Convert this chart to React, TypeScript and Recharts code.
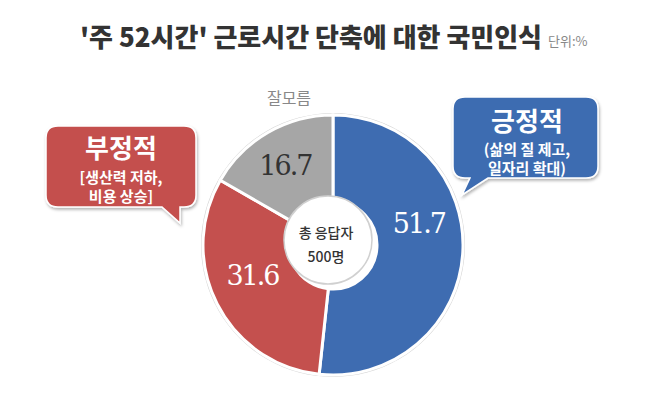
import React from 'react'
import { PieChart, Pie, Cell } from 'recharts'

document.body.style.margin = '0'

const categories = ['긍정적', '부정적', '잘모름']
const shares = [51.7, 31.6, 16.7]
const sliceColors = ['#3e6cb1', '#c4504e', '#a6a6a6']
const labelColors = ['#ffffff', '#ffffff', '#333333']

const data = categories.map((name, i) => ({ name, value: shares[i] }))

const RADIAN = Math.PI / 180
const labelShift = [
  { dx: -1, dy: -26 },
  { dx: -3, dy: -9 },
  { dx: -4, dy: -4 },
]

const renderLabel = (props: any) => {
  const { cx, cy, midAngle, innerRadius, outerRadius, index, value } = props
  const r = (innerRadius + outerRadius) / 2
  const x = cx + r * Math.cos(-midAngle * RADIAN) + labelShift[index].dx
  const y = cy + r * Math.sin(-midAngle * RADIAN) + labelShift[index].dy
  return (
    <text
      x={x}
      y={y}
      textAnchor="middle"
      dominantBaseline="central"
      fill={labelColors[index]}
      fontFamily="DejaVu Serif"
      fontSize={27}
      letterSpacing={-2}
    >
      {Number(value).toFixed(1)}
    </text>
  )
}

const FONT = '"Noto Sans CJK KR", "Noto Sans", sans-serif'

export default function App() {
  return (
    <div style={{ position: 'relative', width: 650, height: 411, background: '#fff' }}>
      <PieChart width={650} height={411}>
        <Pie
          data={[{ value: 1 }]}
          dataKey="value"
          cx={328}
          cy={240}
          innerRadius={130}
          outerRadius={132}
          fill="#d6d6d6"
          stroke="none"
          isAnimationActive={false}
        />
        <Pie
          data={data}
          dataKey="value"
          nameKey="name"
          cx={328}
          cy={240}
          innerRadius={44}
          outerRadius={130}
          startAngle={90}
          endAngle={-270}
          stroke="#ffffff"
          strokeWidth={3}
          label={renderLabel}
          labelLine={false}
          isAnimationActive={false}
        >
          {data.map((d, i) => (
            <Cell key={d.name} fill={sliceColors[i]} />
          ))}
        </Pie>
      </PieChart>
      <svg
        width={650}
        height={411}
        style={{ position: 'absolute', left: 0, top: 0, pointerEvents: 'none' }}
      >
        <defs>
          <filter id="sh" x="-20%" y="-20%" width="140%" height="140%">
            <feDropShadow dx="1" dy="2" stdDeviation="1.5" floodColor="#000" floodOpacity="0.3" />
          </filter>
        </defs>
        <text
          x={311}
          y={47}
          textAnchor="middle"
          fontFamily={FONT}
          fontWeight={900}
          fontSize={26}
          fill="#333"
          textLength={462}
          lengthAdjust="spacingAndGlyphs"
        >
          '주 52시간' 근로시간 단축에 대한 국민인식
        </text>
        <text x={548} y={46} fontFamily={FONT} fontSize={13} fill="#888">
          단위:%
        </text>
        <text x={289} y={104} textAnchor="middle" fontFamily={FONT} fontSize={16} fill="#888">
          잘모름
        </text>

        <circle cx={328} cy={240} r={44} fill="#fff" stroke="#d0d0d0" strokeWidth={1.5} />
        <text x={326} y={238} textAnchor="middle" fontFamily={FONT} fontWeight={500} fontSize={14} fill="#333">
          총 응답자
        </text>
        <text x={326} y={262} textAnchor="middle" fontFamily={FONT} fontWeight={500} fontSize={14} fill="#333">
          500명
        </text>

        <path
          d="M58,126 H184 Q196,126 196,138 V195 Q196,207 184,207 L180,207 L180,223 L162,207 H58 Q46,207 46,195 V138 Q46,126 58,126 Z"
          fill="#c4504e"
          stroke="#fff"
          strokeWidth={1.5}
          filter="url(#sh)"
        />
        <text x={121} y={158} textAnchor="middle" fontFamily={FONT} fontWeight={700} fontSize={26} fill="#fff">
          부정적
        </text>
        <text x={121} y={183} textAnchor="middle" fontFamily={FONT} fontWeight={700} fontSize={15} fill="#fff">
          [생산력 저하,
        </text>
        <text x={121} y={202} textAnchor="middle" fontFamily={FONT} fontWeight={700} fontSize={15} fill="#fff">
          비용 상승]
        </text>

        <path
          d="M465,97 H586 Q598,97 598,109 V166 Q598,178 586,178 H488 L462,195 L470,178 H465 Q453,178 453,166 V109 Q453,97 465,97 Z"
          fill="#3e6cb1"
          stroke="#fff"
          strokeWidth={1.5}
          filter="url(#sh)"
        />
        <text x={527} y={131} textAnchor="middle" fontFamily={FONT} fontWeight={700} fontSize={26} fill="#fff">
          긍정적
        </text>
        <text x={527} y={155} textAnchor="middle" fontFamily={FONT} fontWeight={700} fontSize={15} fill="#fff">
          (삶의 질 제고,
        </text>
        <text x={527} y={174} textAnchor="middle" fontFamily={FONT} fontWeight={700} fontSize={15} fill="#fff">
          일자리 확대)
        </text>
      </svg>
    </div>
  )
}
